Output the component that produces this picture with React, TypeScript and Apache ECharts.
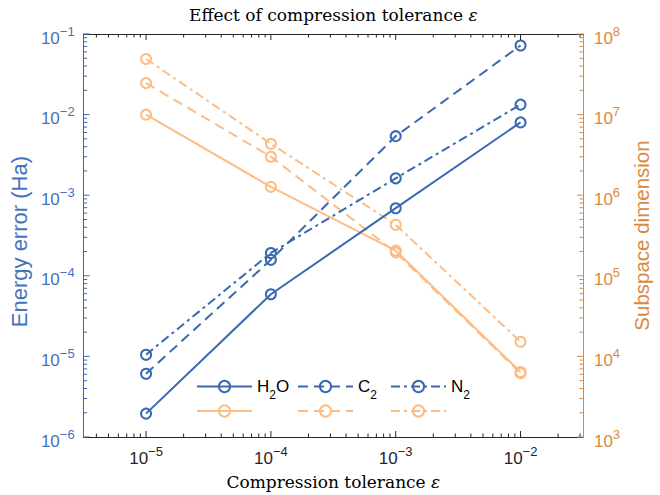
import React, { useEffect, useRef } from 'react';
import * as echarts from 'echarts';

// ---- data ----
const TOLERANCES = [1e-5, 1e-4, 1e-3, 1e-2];
const ERR_H2O = [1.95e-6, 5.9e-5, 6.9e-4, 8.0e-3];
const ERR_C2 = [6.1e-6, 1.58e-4, 5.4e-3, 7.2e-2];
const ERR_N2 = [1.05e-5, 1.92e-4, 1.62e-3, 1.33e-2];
const DIM_H2O = [1.0e7, 1.27e6, 2.05e5, 6.4e3];
const DIM_C2 = [2.46e7, 3.0e6, 1.95e5, 6.2e3];
const DIM_N2 = [4.9e7, 4.35e6, 4.3e5, 1.52e4];

// axis ranges and tick decades
const X_MIN = Math.pow(10, -5.5);
const X_MAX = Math.pow(10, -1.5);
const ERR_MIN = 1e-6;
const ERR_MAX = 1e-1;
const DIM_MIN = 1e3;
const DIM_MAX = 1e8;
const X_DECADES = [1e-6, 1e-5, 1e-4, 1e-3, 1e-2];
const ERR_DECADES = [1e-6, 1e-5, 1e-4, 1e-3, 1e-2, 1e-1];
const DIM_DECADES = [1e3, 1e4, 1e5, 1e6, 1e7, 1e8];
const MINOR_MULTS = [2, 3, 4, 5, 6, 7, 8, 9];

const BLUE = '#3A69B2';
const BLUE_TXT = '#4572BC';
const ORANGE = '#FCBD84';
const ORANGE_AX = '#DA8A40';
const DARK = '#262626';
const SANS = 'Liberation Sans';
const SERIF = 'DejaVu Serif';

const DASHED = [10, 6];
const DASHDOT = [9, 4, 3, 4];

function tickList(decades: number[], min: number, max: number) {
  const out: { v: number; major: boolean }[] = [];
  decades.forEach((d) => {
    if (d >= min * 0.999 && d <= max * 1.001) out.push({ v: d, major: true });
    MINOR_MULTS.forEach((m) => {
      const v = d * m;
      if (v >= min * 0.999 && v <= max * 1.001) out.push({ v, major: false });
    });
  });
  return out;
}

const powFmt = (v: number) => {
  const l = Math.log10(v);
  const e = Math.round(l);
  if (Math.abs(l - e) > 1e-6) return '';
  const s = e < 0 ? '\u2212' + -e : String(e);
  return `{b|10}{s|${s}}`;
};

const powRich = (color: string) => ({
  b: { fontSize: 17, fontFamily: SANS, color, padding: [8, 0, 0, 0] },
  s: { fontSize: 13, fontFamily: SANS, color, padding: [0, 0, 6, 0] },
});

const MAJOR_LEN = 6;
const MINOR_LEN = 3.5;

export default function App() {
  const ref = useRef<HTMLDivElement>(null);

  useEffect(() => {
    if (!ref.current) return;
    const chart = echarts.init(ref.current, undefined, { renderer: 'svg' });

    const xTicks = tickList(X_DECADES, X_MIN, X_MAX);
    const errTicks = tickList(ERR_DECADES, ERR_MIN, ERR_MAX);
    const dimTicks = tickList(DIM_DECADES, DIM_MIN, DIM_MAX);

    const lineSeries = (
      name: string,
      vals: number[],
      color: string,
      yAxisIndex: number,
      dash: any,
      z: number
    ) => ({
      type: 'line',
      name,
      xAxisIndex: 0,
      yAxisIndex,
      data: TOLERANCES.map((x, i) => [x, vals[i]]),
      symbol: 'circle',
      symbolSize: 10,
      showSymbol: true,
      silent: true,
      z,
      lineStyle: { color, width: 2, type: dash },
      itemStyle: { color: 'rgba(255,255,255,0)', borderColor: color, borderWidth: 2 },
      emphasis: { disabled: true },
    });

    const legendNames: Record<string, string> = {
      H2O: 'H{sub|2}O',
      C2: 'C{sub|2}',
      N2: 'N{sub|2}',
    };
    const mkLegend = (name: string, left: number, top: number) => ({
      data: [name],
      left,
      top,
      orient: 'horizontal',
      padding: 0,
      itemGap: 0,
      itemWidth: 55,
      itemHeight: 14,
      selectedMode: false,
      formatter: (n: string) => legendNames[n] || '',
      textStyle: {
        fontFamily: SANS,
        fontSize: 17,
        color: '#000',
        rich: {
          sub: { fontFamily: SANS, fontSize: 12, color: '#000', padding: [16, 0, 0, 0] },
        },
      },
    });

    const serifName = (size: number) => ({
      fontFamily: SERIF,
      fontSize: size,
      color: '#000',
      rich: { i: { fontFamily: SERIF, fontSize: size, fontStyle: 'italic', color: '#000' } },
    });

    const option: any = {
      animation: false,
      backgroundColor: '#ffffff',
      grid: { left: 77, top: 34, width: 516, height: 405, containLabel: false },
      legend: [
        mkLegend('H2O', 196, 378),
        mkLegend('C2', 297, 378),
        mkLegend('N2', 390, 378),
        mkLegend('H2O dim', 196, 404),
        mkLegend('C2 dim', 297, 404),
        mkLegend('N2 dim', 390, 404),
      ],
      xAxis: [
        {
          type: 'log',
          logBase: 10,
          min: X_MIN,
          max: X_MAX,
          position: 'bottom',
          axisLine: { lineStyle: { color: DARK, width: 1 } },
          axisTick: { show: false },
          minorTick: { show: false },
          splitLine: { show: false },
          axisLabel: { margin: 5, fontSize: 17, fontFamily: SANS, color: DARK, formatter: powFmt, rich: powRich(DARK) },
          name: 'Compression tolerance {i|\u03b5}',
          nameLocation: 'middle',
          nameGap: 36,
          nameTextStyle: serifName(17),
        },
        {
          type: 'log',
          logBase: 10,
          min: X_MIN,
          max: X_MAX,
          position: 'top',
          axisLine: { lineStyle: { color: DARK, width: 1 } },
          axisTick: { show: false },
          minorTick: { show: false },
          splitLine: { show: false },
          axisLabel: { show: false },
          name: 'Effect of compression tolerance {i|\u03b5}',
          nameLocation: 'middle',
          nameGap: 11,
          nameTextStyle: serifName(17),
        },
      ],
      yAxis: [
        {
          type: 'log',
          logBase: 10,
          min: ERR_MIN,
          max: ERR_MAX,
          position: 'left',
          axisLine: { lineStyle: { color: BLUE, width: 1 } },
          axisTick: { show: false },
          minorTick: { show: false },
          splitLine: { show: false },
          axisLabel: { margin: 9, fontSize: 17, fontFamily: SANS, color: BLUE_TXT, formatter: powFmt, rich: powRich(BLUE_TXT) },
          name: 'Energy error (Ha)\u00a0\u00a0',
          nameLocation: 'middle',
          nameGap: 47,
          nameTextStyle: { fontFamily: SANS, fontSize: 22, color: BLUE_TXT },
        },
        {
          type: 'log',
          logBase: 10,
          min: DIM_MIN,
          max: DIM_MAX,
          position: 'right',
          axisLine: { lineStyle: { color: ORANGE_AX, width: 1 } },
          axisTick: { show: false },
          minorTick: { show: false },
          splitLine: { show: false },
          axisLabel: { margin: 11, fontSize: 17, fontFamily: SANS, color: ORANGE_AX, formatter: powFmt, rich: powRich(ORANGE_AX) },
          name: 'Subspace dimension',
          nameLocation: 'middle',
          nameGap: 48,
          nameTextStyle: { fontFamily: SANS, fontSize: 20.5, color: ORANGE_AX },
        },
      ],
      series: [
        lineSeries('H2O dim', DIM_H2O, ORANGE, 1, 'solid', 2),
        lineSeries('C2 dim', DIM_C2, ORANGE, 1, DASHED, 2),
        lineSeries('N2 dim', DIM_N2, ORANGE, 1, DASHDOT, 2),
        lineSeries('H2O', ERR_H2O, BLUE, 0, 'solid', 3),
        lineSeries('C2', ERR_C2, BLUE, 0, DASHED, 3),
        lineSeries('N2', ERR_N2, BLUE, 0, DASHDOT, 3),
        {
          type: 'custom',
          name: 'xticks',
          xAxisIndex: 0,
          yAxisIndex: 0,
          silent: true,
          clip: false,
          z: 4,
          data: xTicks.map((t) => [t.v, ERR_MIN, t.major ? MAJOR_LEN : MINOR_LEN]),
          renderItem: (_p: any, api: any) => {
            const x = api.value(0);
            const len = api.value(2);
            const b = api.coord([x, ERR_MIN]);
            const t = api.coord([x, ERR_MAX]);
            return {
              type: 'group',
              children: [
                { type: 'line', shape: { x1: b[0], y1: b[1], x2: b[0], y2: b[1] - len }, style: { stroke: DARK, lineWidth: 1 } },
                { type: 'line', shape: { x1: t[0], y1: t[1], x2: t[0], y2: t[1] + len }, style: { stroke: DARK, lineWidth: 1 } },
              ],
            };
          },
        },
        {
          type: 'custom',
          name: 'errticks',
          xAxisIndex: 0,
          yAxisIndex: 0,
          silent: true,
          clip: false,
          z: 4,
          data: errTicks.map((t) => [X_MIN, t.v, t.major ? MAJOR_LEN : MINOR_LEN]),
          renderItem: (_p: any, api: any) => {
            const y = api.value(1);
            const len = api.value(2);
            const p = api.coord([X_MIN, y]);
            return { type: 'line', shape: { x1: p[0], y1: p[1], x2: p[0] + len, y2: p[1] }, style: { stroke: BLUE, lineWidth: 1 } };
          },
        },
        {
          type: 'custom',
          name: 'dimticks',
          xAxisIndex: 0,
          yAxisIndex: 1,
          silent: true,
          clip: false,
          z: 4,
          data: dimTicks.map((t) => [X_MAX, t.v, t.major ? MAJOR_LEN : MINOR_LEN]),
          renderItem: (_p: any, api: any) => {
            const y = api.value(1);
            const len = api.value(2);
            const p = api.coord([X_MAX, y]);
            return { type: 'line', shape: { x1: p[0], y1: p[1], x2: p[0] - len, y2: p[1] }, style: { stroke: ORANGE_AX, lineWidth: 1 } };
          },
        },
      ],
    };

    chart.setOption(option);
    return () => chart.dispose();
  }, []);

  return (
    <div
      ref={ref}
      style={{ position: 'absolute', left: 0, top: 0, width: 660, height: 495, background: '#fff' }}
    />
  );
}
